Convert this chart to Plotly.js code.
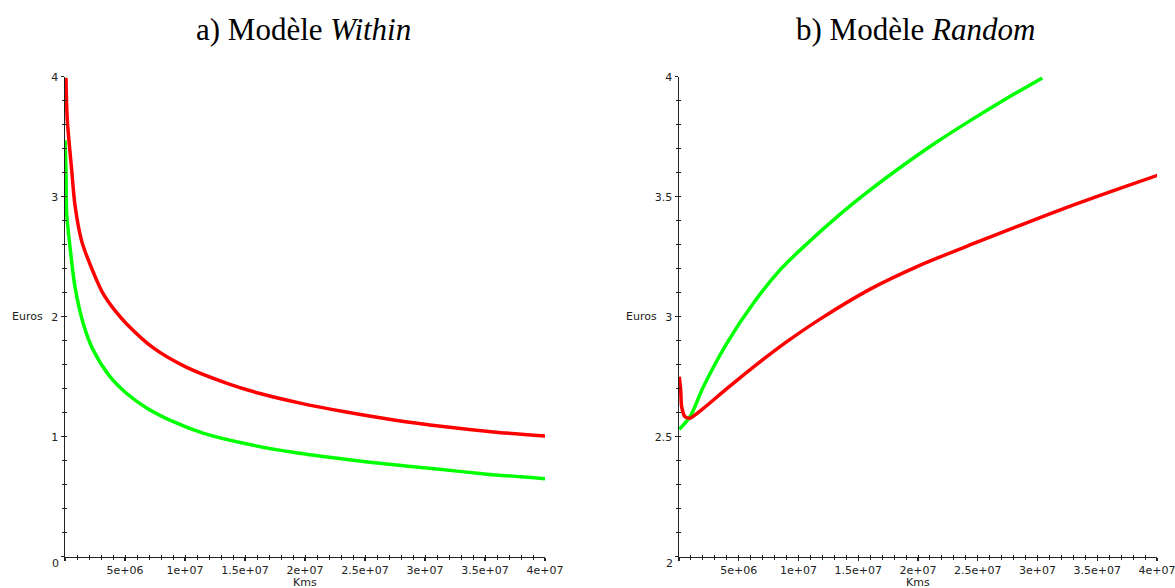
<!DOCTYPE html>
<html>
<head>
<meta charset="utf-8">
<script src="https://cdn.plot.ly/plotly-3.0.1.min.js"></script>
<style>html,body{margin:0;padding:0;background:#fff;}#chart{width:1175px;height:588px;}</style>
</head>
<body>
<div id="chart"></div>
<script>
// ---- Data (Kms, Euros) ----
// a) Modèle Within
var withinRedX   = [80000, 190000, 560000, 830000, 1390000, 2360000, 3190000, 4170000, 5140000, 7360000, 10100000, 13500000, 16250000, 19600000, 23200000, 27400000, 31500000, 35700000, 40000000];
var withinRedY   = [3.99, 3.64, 3.22, 2.93, 2.63, 2.37, 2.19, 2.05, 1.94, 1.74, 1.58, 1.445, 1.36, 1.28, 1.21, 1.14, 1.085, 1.04, 1.005];
var withinGreenX = [0, 80000, 140000, 420000, 830000, 1530000, 2360000, 3750000, 5140000, 6800000, 9030000, 11500000, 14900000, 19000000, 23500000, 27000000, 31000000, 35000000, 40000000];
var withinGreenY = [3.47, 3.22, 2.86, 2.58, 2.25, 1.94, 1.72, 1.50, 1.36, 1.24, 1.125, 1.03, 0.945, 0.87, 0.81, 0.77, 0.73, 0.69, 0.65];
// b) Modèle Random
var randomRedX   = [20000, 140000, 220000, 500000, 920000, 2040000, 4000000, 6220000, 9000000, 11800000, 16000000, 20200000, 24400000, 28600000, 32800000, 36900000, 40100000];
var randomRedY   = [2.75, 2.695, 2.625, 2.583, 2.577, 2.618, 2.70, 2.79, 2.895, 2.99, 3.115, 3.215, 3.30, 3.382, 3.462, 3.535, 3.59];
var randomGreenX = [30000, 920000, 2040000, 4000000, 6220000, 8460000, 10400000, 13200000, 16000000, 18800000, 21600000, 24400000, 27200000, 30400000];
var randomGreenY = [2.531, 2.583, 2.708, 2.889, 3.056, 3.195, 3.29, 3.415, 3.528, 3.632, 3.729, 3.818, 3.903, 3.995];

// Tick labels
var xTickVals = [0, 5e6, 1e7, 1.5e7, 2e7, 2.5e7, 3e7, 3.5e7, 4e7];
var xTickText = ['', '5e+06', '1e+07', '1.5e+07', '2e+07', '2.5e+07', '3e+07', '3.5e+07', '4e+07'];
var yLeftVals = [0, 1, 2, 3, 4];
var yLeftText = ['', '1', '2', '3', '4'];
var yRightVals = [2, 2.5, 3, 3.5, 4];
var yRightText = ['', '2.5', '3', '3.5', '4'];

var titles = ['a) Modèle <i>Within</i>', 'b) Modèle <i>Random</i>'];

var RED = '#ff0000', GREEN = '#00ff00', AX = '#222222';
var tickFont = {family: 'DejaVu Sans, sans-serif', size: 11, color: '#222'};
var LW = 3.5;

var traces = [
  {x: withinRedX, y: withinRedY, xaxis: 'x', yaxis: 'y', mode: 'lines', line: {color: RED, width: LW, shape: 'spline', smoothing: 0.8}},
  {x: withinGreenX, y: withinGreenY, xaxis: 'x', yaxis: 'y', mode: 'lines', line: {color: GREEN, width: LW, shape: 'spline', smoothing: 0.8}},
  {x: randomGreenX, y: randomGreenY, xaxis: 'x2', yaxis: 'y2', mode: 'lines', line: {color: GREEN, width: LW, shape: 'spline', smoothing: 0.8}},
  {x: randomRedX, y: randomRedY, xaxis: 'x2', yaxis: 'y2', mode: 'lines', line: {color: RED, width: LW, shape: 'spline', smoothing: 0.6}},
  // invisible traces to create overlay axes (inside half of the crossing ticks)
  {x: [0], y: [0], xaxis: 'x3', yaxis: 'y3', mode: 'markers', marker: {opacity: 0}, hoverinfo: 'skip'},
  {x: [0], y: [2], xaxis: 'x4', yaxis: 'y4', mode: 'markers', marker: {opacity: 0}, hoverinfo: 'skip'}
];

var H = 588, W = 1175;
var yDom = [(588 - 556.7) / H, (588 - 76.7) / H];
var xDomL = [65 / W, 545 / W];
var xDomR = [679 / W, 1157 / W];

function xAxis(domain, anchor) {
  return {
    domain: domain, anchor: anchor, range: [0, 4e7], showgrid: false, zeroline: false,
    showline: true, linecolor: AX, linewidth: 1.5,
    tickmode: 'array', tickvals: xTickVals, ticktext: xTickText,
    ticks: 'outside', ticklen: 3, tickwidth: 1.2, tickcolor: AX,
    minor: {tickmode: 'linear', tick0: 0, dtick: 1e6, ticks: 'outside', ticklen: 2, tickwidth: 1, tickcolor: AX},
    tickfont: tickFont, ticklabeloverflow: 'allow', fixedrange: true
  };
}
function yAxis(domain, anchor, range, vals, text, minorDt) {
  return {
    domain: domain, anchor: anchor, range: range, showgrid: false, zeroline: false,
    showline: true, linecolor: AX, linewidth: 1.5,
    tickmode: 'array', tickvals: vals, ticktext: text,
    ticks: 'outside', ticklen: 3, tickwidth: 1.2, tickcolor: AX,
    minor: {tickmode: 'linear', tick0: range[0], dtick: minorDt, ticks: 'outside', ticklen: 2, tickwidth: 1, tickcolor: AX},
    tickfont: tickFont, ticklabeloverflow: 'allow', fixedrange: true
  };
}
function overlayX(over, anchor, vals, minorDt) {
  return {overlaying: over, anchor: anchor, range: [0, 4e7], showgrid: false, zeroline: false, showline: false,
    tickmode: 'array', tickvals: vals, ticktext: vals.map(function(){return '';}), ticks: 'inside', ticklen: 3, tickwidth: 1.2, tickcolor: AX,
    minor: {tickmode: 'linear', tick0: 0, dtick: minorDt, ticks: 'inside', ticklen: 2, tickwidth: 1, tickcolor: AX},
    showticklabels: false, fixedrange: true};
}
function overlayY(over, anchor, range, vals, minorDt) {
  return {overlaying: over, anchor: anchor, range: range, showgrid: false, zeroline: false, showline: false,
    tickmode: 'array', tickvals: vals, ticktext: vals.map(function(){return '';}), ticks: 'inside', ticklen: 3, tickwidth: 1.2, tickcolor: AX,
    minor: {tickmode: 'linear', tick0: range[0], dtick: minorDt, ticks: 'inside', ticklen: 2, tickwidth: 1, tickcolor: AX},
    showticklabels: false, fixedrange: true};
}

var labelFont = {family: 'DejaVu Sans, sans-serif', size: 11, color: '#222'};
var titleFont = {family: 'Liberation Serif, Times New Roman, serif', size: 31, color: '#000'};

var layout = {
  width: W, height: H, margin: {l: 0, r: 0, t: 0, b: 0},
  paper_bgcolor: '#fff', plot_bgcolor: 'rgba(0,0,0,0)', showlegend: false,
  xaxis: xAxis(xDomL, 'y'),
  yaxis: yAxis(yDom, 'x', [0, 4], yLeftVals, yLeftText, 0.2),
  xaxis2: xAxis(xDomR, 'y2'),
  yaxis2: yAxis(yDom, 'x2', [2, 4], yRightVals, yRightText, 0.1),
  xaxis3: overlayX('x', 'y3', xTickVals, 1e6),
  yaxis3: overlayY('y', 'x3', [0, 4], yLeftVals, 0.2),
  xaxis4: overlayX('x2', 'y4', xTickVals, 1e6),
  yaxis4: overlayY('y2', 'x4', [2, 4], yRightVals, 0.1),
  annotations: [
    {text: titles[0], xref: 'paper', yref: 'paper', x: 303 / W, y: 1 - 30 / H, xanchor: 'center', yanchor: 'middle', showarrow: false, font: titleFont},
    {text: titles[1], xref: 'paper', yref: 'paper', x: 916 / W, y: 1 - 30 / H, xanchor: 'center', yanchor: 'middle', showarrow: false, font: titleFont},
    {text: 'Euros', xref: 'paper', yref: 'y', x: 45 / W, y: 2, xanchor: 'right', yanchor: 'middle', showarrow: false, font: labelFont},
    {text: 'Euros', xref: 'paper', yref: 'y2', x: 659 / W, y: 3, xanchor: 'right', yanchor: 'middle', showarrow: false, font: labelFont},
    {text: 'Kms', xref: 'paper', yref: 'paper', x: 305 / W, y: 1 - 582 / H, xanchor: 'center', yanchor: 'middle', showarrow: false, font: labelFont},
    {text: 'Kms', xref: 'paper', yref: 'paper', x: 918 / W, y: 1 - 582 / H, xanchor: 'center', yanchor: 'middle', showarrow: false, font: labelFont},
    {text: '0', xref: 'paper', yref: 'paper', x: 61 / W, y: 1 - 563 / H, xanchor: 'right', yanchor: 'middle', showarrow: false, font: labelFont},
    {text: '2', xref: 'paper', yref: 'paper', x: 675 / W, y: 1 - 563 / H, xanchor: 'right', yanchor: 'middle', showarrow: false, font: labelFont}
  ]
};

Plotly.newPlot('chart', traces, layout, {displayModeBar: false, staticPlot: true});
</script>
</body>
</html>
